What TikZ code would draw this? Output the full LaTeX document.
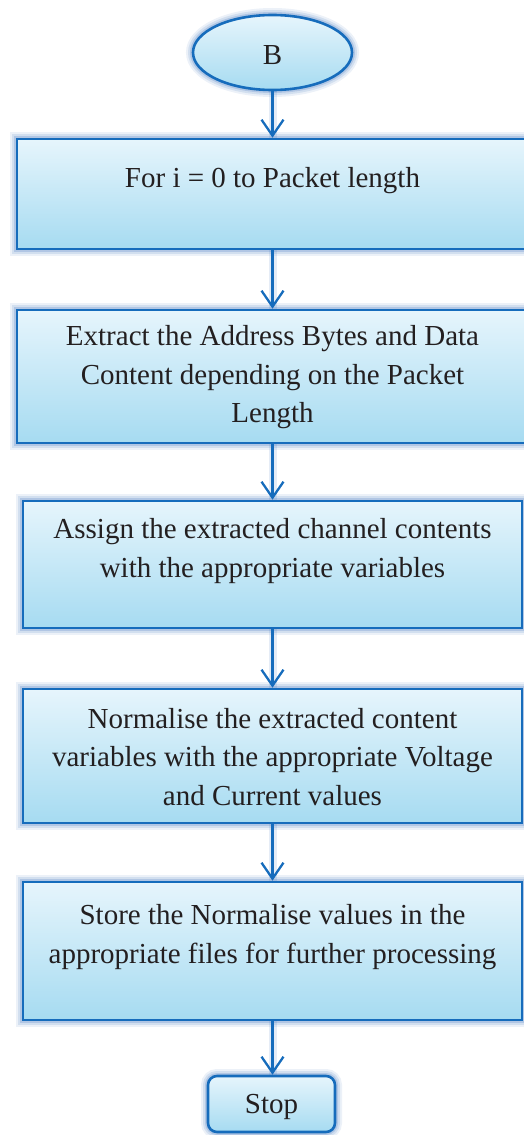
\documentclass[tikz,border=0pt]{standalone}
\usepackage{fontspec}
\setmainfont{Liberation Serif}
\usetikzlibrary{arrows.meta,shapes.geometric}
\definecolor{edgeblue}{RGB}{22,108,188}
\definecolor{topfill}{RGB}{230,245,252}
\definecolor{botfill}{RGB}{166,219,241}
\definecolor{glowblue}{RGB}{40,100,180}
\definecolor{txtcol}{RGB}{35,31,32}
\tikzset{
  glow/.style={
    preaction={draw=glowblue, line width=14pt, opacity=0.09},
    preaction={draw=glowblue, line width=10pt, opacity=0.13},
    preaction={draw=glowblue, line width=6pt, opacity=0.20}},
  box/.style={rectangle, draw=edgeblue, line width=2.6pt, top color=topfill,
    bottom color=botfill, inner sep=0pt, glow},
  termbox/.style={box, rounded corners=9pt},
  startell/.style={ellipse, draw=edgeblue, line width=2.6pt, top color=topfill,
    bottom color=botfill, inner sep=0pt, glow},
  txt/.style={text=txtcol, font=\fontsize{29}{38.5}\selectfont, align=center, inner sep=0pt},
  arr/.style={draw=edgeblue, line width=2.3pt,
    -{Straight Barb[length=16pt,width=22pt,line width=2.3pt]},
    preaction={draw=glowblue, line width=8pt, opacity=0.12, -{}}}
}
\begin{document}
\begin{tikzpicture}[x=1pt,y=-1pt]
\useasboundingbox (0,0) rectangle (524,1135);
% terminal start
\node[startell, minimum width=159pt, minimum height=75pt] (B) at (272.5,52.5) {};
\node[txt] (Bt) at (272.5,55) {B};
% process boxes
\node[box, minimum width=523pt, minimum height=110pt] (b1) at (278.5,194) {};
\node[txt] (t1) at (272.5,181) {For i = 0 to Packet length};
\node[box, minimum width=523pt, minimum height=133pt] (b2) at (278.5,376.5) {};
\node[txt] (t2) at (272.5,377.5) {Extract the Address Bytes and Data\\Content depending on the Packet\\Length};
\node[box, minimum width=499pt, minimum height=127pt] (b3) at (272.5,564.5) {};
\node[txt] (t3) at (272.5,551) {Assign the extracted channel contents\\with the appropriate variables};
\node[box, minimum width=499pt, minimum height=134pt] (b4) at (272.5,756) {};
\node[txt] (t4) at (272.5,757) {Normalise the extracted content\\variables with the appropriate Voltage\\and Current values};
\node[box, minimum width=499pt, minimum height=138pt] (b5) at (272.5,951) {};
\node[txt] (t5) at (272.5,937) {Store the Normalise values in the\\appropriate files for further processing};
% stop
\node[termbox, minimum width=127pt, minimum height=56pt] (stop) at (271.5,1104) {};
\node[txt] (st) at (271.5,1107) {Stop};
% connectors
\draw[arr] (B.south) -- (B.south |- b1.north);
\draw[arr] (B.south |- b1.south) -- (B.south |- b2.north);
\draw[arr] (B.south |- b2.south) -- (B.south |- b3.north);
\draw[arr] (B.south |- b3.south) -- (B.south |- b4.north);
\draw[arr] (B.south |- b4.south) -- (B.south |- b5.north);
\draw[arr] (B.south |- b5.south) -- (B.south |- stop.north);
\end{tikzpicture}
\end{document}
